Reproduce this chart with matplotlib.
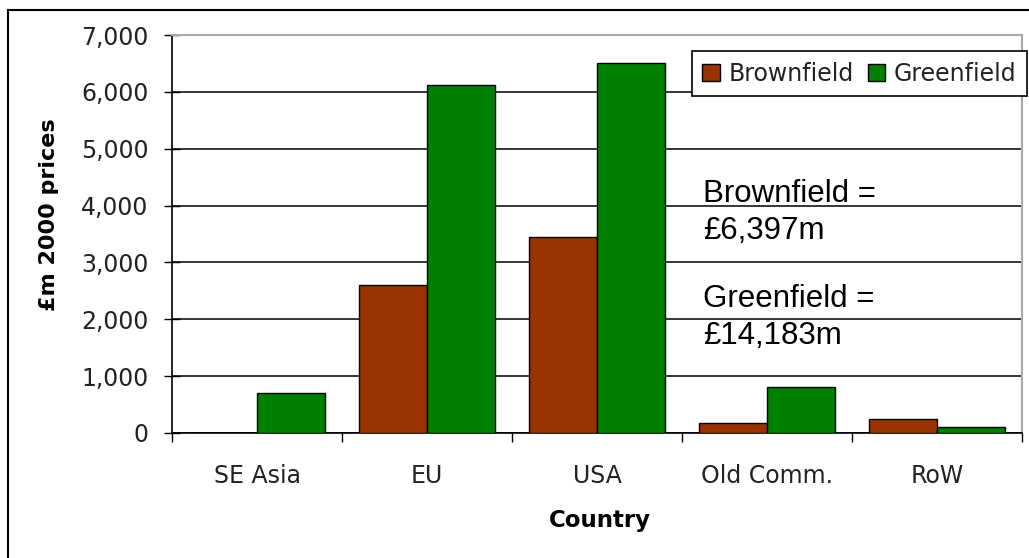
"""
Brownfield / Greenfield investment by country (GBP m, 2000 prices)
grouped bar chart rebuilt with matplotlib
"""
import numpy as np
import matplotlib.pyplot as plt
from matplotlib.lines import Line2D

# data
countries = ['SE Asia', 'EU', 'USA', 'Old Comm.', 'RoW']
brownfield = [0, 2595, 3445, 170, 245]
greenfield = [700, 6120, 6510, 810, 100]
series_names = ['Brownfield', 'Greenfield']
y_ticks = [0, 1000, 2000, 3000, 4000, 5000, 6000, 7000]
totals = ['£6,397m', '£14,183m']

W, H = 1029, 558


def fx(px):
    """pixel x -> figure fraction"""
    return px / W


def fy(py):
    """pixel y (from top) -> figure fraction"""
    return 1 - py / H


def main():
    fig = plt.figure(figsize=(W / 100, H / 100), dpi=100)
    fig.patch.set_facecolor('white')

    # outer chart border (top + left visible)
    fig.add_artist(Line2D([fx(8), 1.0], [fy(10), fy(10)], color='black', lw=1.5,
                          transform=fig.transFigure))
    fig.add_artist(Line2D([fx(8), fx(8)], [fy(10), 0.0], color='black', lw=1.5,
                          transform=fig.transFigure))

    left, right, top, bottom = 172, 1022, 35, 433
    ax = fig.add_axes([fx(left), fy(bottom), fx(right) - fx(left), fy(top) - fy(bottom)])

    x = np.arange(len(countries))
    w = 0.4
    ax.bar(x - w / 2, brownfield, w, color='#993300', edgecolor='black', lw=1.0,
           label=series_names[0], zorder=3)
    ax.bar(x + w / 2, greenfield, w, color='#008000', edgecolor='black', lw=1.0,
           label=series_names[1], zorder=3)

    ax.set_xlim(-0.5, len(countries) - 0.5)
    ax.set_ylim(0, 7000)

    # y axis
    ax.set_yticks(y_ticks)
    ax.set_yticklabels(['{:,}'.format(v) for v in y_ticks])
    ax.tick_params(axis='y', direction='inout', length=12, width=1.0, pad=11,
                   labelsize=17, colors='black', labelcolor='#222222')
    ax.yaxis.grid(True, color='black', lw=1.1, zorder=0)

    # x axis: labels at centres, ticks at the group boundaries
    ax.set_xticks(x)
    ax.set_xticklabels(countries)
    ax.set_xticks(np.arange(len(countries) + 1) - 0.5, minor=True)
    ax.tick_params(axis='x', which='major', length=0, pad=22, labelsize=17,
                   labelcolor='#222222')
    ax.tick_params(axis='x', which='minor', direction='out', length=6.5, width=1.0)

    for side in ['left', 'bottom']:
        ax.spines[side].set_color('black')
        ax.spines[side].set_linewidth(1.2)
    for side in ['top', 'right']:
        ax.spines[side].set_color('#aaaaaa')
        ax.spines[side].set_linewidth(1.5)

    # axis titles
    fig.text(fx(49), fy(215), '£m 2000 prices', rotation=90, ha='center', va='center',
             fontsize=16, fontweight='bold')
    fig.text(fx(600), fy(520), 'Country', ha='center', va='center',
             fontsize=16.5, fontweight='bold')

    # legend
    leg = ax.legend(loc='upper right', bbox_to_anchor=(fx(1027), fy(51)),
                    bbox_transform=fig.transFigure, ncol=2, fontsize=17,
                    frameon=True, fancybox=False, borderaxespad=0,
                    handlelength=0.75, handleheight=0.7, handletextpad=0.35,
                    columnspacing=0.6, borderpad=0.45)
    leg.get_frame().set_edgecolor('black')
    leg.get_frame().set_linewidth(1.2)
    leg.get_frame().set_alpha(1)
    for t in leg.get_texts():
        t.set_color('#222222')

    # totals annotation
    ann = dict(fontsize=22.5, family='Liberation Sans', va='baseline', ha='left')
    fig.text(fx(703), fy(202), series_names[0] + ' =', **ann)
    fig.text(fx(703), fy(239), totals[0], **ann)
    fig.text(fx(703), fy(307), series_names[1] + ' =', **ann)
    fig.text(fx(703), fy(344), totals[1], **ann)

    fig.savefig('out.png', dpi=100)


if __name__ == '__main__':
    main()
